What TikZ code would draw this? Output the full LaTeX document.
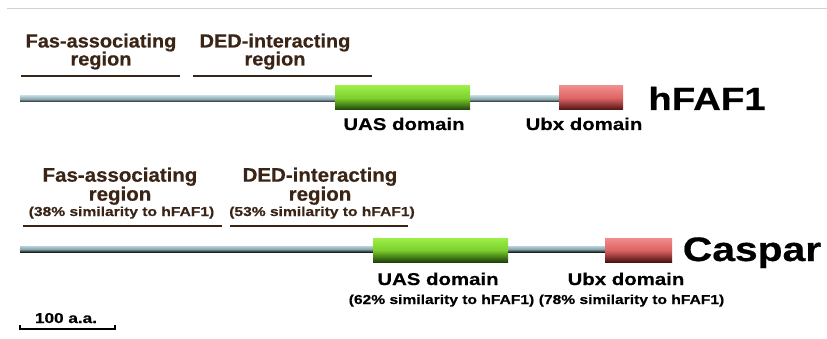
\documentclass[tikz,border=0pt]{standalone}
\usepackage{fontspec}
\newfontfamily\regfont[FakeStretch=1.05, FakeBold=0.5]{Liberation Sans}
\newfontfamily\labfont[FakeStretch=1.2, FakeBold=0.5]{Liberation Sans}
\usetikzlibrary{calc}

\definecolor{regbrown}{HTML}{3A2416}
\definecolor{chainlight}{HTML}{B6D3DB}
\definecolor{chaindark}{HTML}{17211F}
\definecolor{uastop}{HTML}{9CEF48}
\definecolor{uasmid}{HTML}{7ED02E}
\definecolor{uasbot}{HTML}{1C4208}
\definecolor{ubxtop}{HTML}{F08C8C}
\definecolor{ubxmid}{HTML}{DE6464}
\definecolor{ubxbot}{HTML}{4E1212}

\tikzset{
    regline/.style={line width=2pt, regbrown},
    regtext/.style={font=\regfont\bfseries\fontsize{19}{18}\selectfont, text=regbrown, align=center, inner sep=0pt, anchor=south},
    simtext/.style={font=\labfont\bfseries\fontsize{13}{14}\selectfont, inner sep=0pt, anchor=base},
    domtext/.style={font=\labfont\bfseries\fontsize{17}{18}\selectfont, inner sep=0pt, anchor=base},
    nametext/.style={font=\labfont\bfseries\fontsize{32}{34}\selectfont, inner sep=0pt, anchor=base},
    chain/.style={top color=chainlight, bottom color=chaindark, middle color=chainlight!75!chaindark},
    uasbox/.style={minimum width=135pt, minimum height=24pt, inner sep=0pt, top color=uastop, bottom color=uasbot, middle color=uasmid},
    ubxbox/.style={minimum height=24pt, inner sep=0pt, top color=ubxtop, bottom color=ubxbot, middle color=ubxmid}
}

\begin{document}
\begin{tikzpicture}[x=1pt, y=-1pt]
        \useasboundingbox (0,0) rectangle (827,339);

        % Top rule
        \draw[black!18, line width=1pt] (7,9) -- (827,9);

        % ---- hFAF1 ----
        % Backbone
        \coordinate (hStart) at (20,99);
        \coordinate (hEnd) at (590,99);
        \shade[chain] ([yshift=-3pt]hStart) rectangle ([yshift=3pt]hEnd);

        % Domains
        \node[uasbox] (uasH) at (402.5,98) {};
        \node[ubxbox, minimum width=64pt] (ubxH) at (591,98) {};
        \node[nametext] (nameH) at (707,110) {hFAF1};
        \node[domtext] (uasHlab) at (404,130) {UAS domain};
        \node[domtext] (ubxHlab) at (584,130) {Ubx domain};

        % Regions
        \draw[regline] (21,76) -- (180,76);
        \node[regtext] (fasH) at (101,69.7) {Fas-associating\\region};
        \draw[regline] (193,76) -- (372,76);
        \node[regtext] (dedH) at (275,69.7) {DED-interacting\\region};

        % ---- Caspar ----
        % Backbone
        \coordinate (cStart) at (20,249);
        \coordinate (cEnd) at (640,249);
        \shade[chain] ([yshift=-3pt]cStart) rectangle ([yshift=3pt]cEnd);

        % Domains
        \node[uasbox] (uasC) at (440.5,250) {};
        \node[ubxbox, minimum width=67pt] (ubxC) at (638.5,250) {};
        \node[nametext, font=\labfont\bfseries\fontsize{34}{36}\selectfont] (nameC) at (752,261) {Caspar};
        \node[domtext] (uasClab) at (438,285) {UAS domain};
        \node[simtext] (uasCsim) at (441.5,304) {(62\% similarity to hFAF1)};
        \node[domtext] (ubxClab) at (626,285) {Ubx domain};
        \node[simtext] (ubxCsim) at (631.5,304) {(78\% similarity to hFAF1)};

        % Regions
        \draw[regline] (23,226) -- (222,226);
        \node[regtext, font=\regfont\bfseries\fontsize{19.5}{19}\selectfont] (fasC) at (120,205) {Fas-associating\\region};
        \node[simtext, text=regbrown] (fasCsim) at (121.5,216) {(38\% similarity to hFAF1)};
        \draw[regline] (230,226) -- (408,226);
        \node[regtext, font=\regfont\bfseries\fontsize{19.5}{19}\selectfont] (dedC) at (320,205) {DED-interacting\\region};
        \node[simtext, text=regbrown] (dedCsim) at (322,216) {(53\% similarity to hFAF1)};

        % Scale bar
        \draw[line width=2pt] (20,325) -- (20,329) -- (115,329) -- (115,325);
        \node[domtext, font=\labfont\bfseries\fontsize{14.3}{16}\selectfont] (scale) at (66,323) {100 a.a.};
    \end{tikzpicture}
\end{document}
